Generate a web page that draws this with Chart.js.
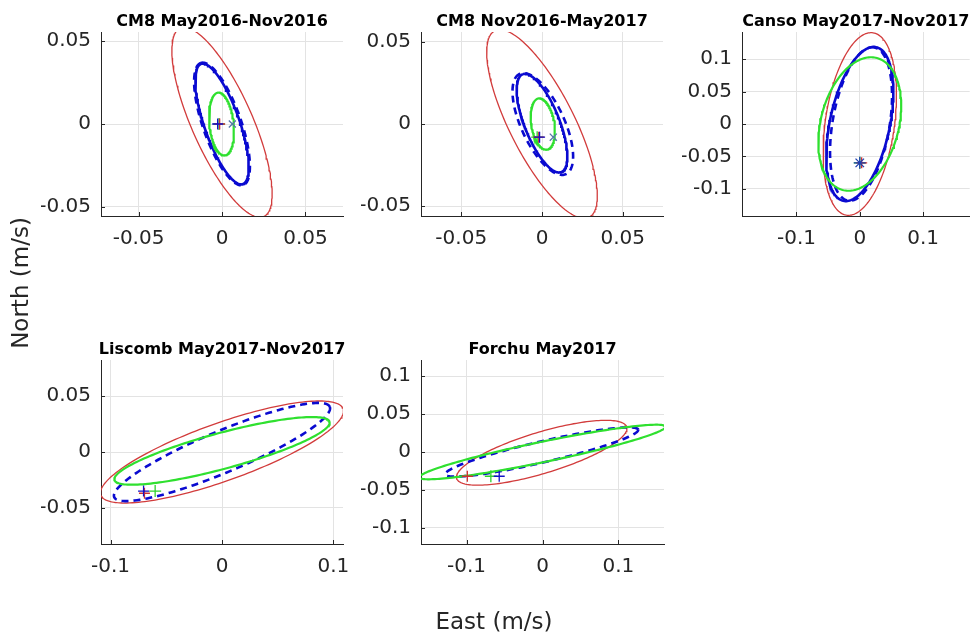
<!DOCTYPE html>
<html>
<head>
<meta charset="utf-8">
<script src="https://cdn.jsdelivr.net/npm/chart.js@4.4.1/dist/chart.umd.min.js"></script>
<style>
html, body { margin: 0; padding: 0; background: #fff; overflow: hidden; }
#wrap { position: relative; width: 977px; height: 639px; }
#wrap canvas { position: absolute; left: 0; top: 0; }
</style>
</head>
<body>
<div id="wrap"></div>
<script>
// Panel titles and axis limits
const TITLES = ['CM8 May2016-Nov2016', 'CM8 Nov2016-May2017', 'Canso May2017-Nov2017', 'Liscomb May2017-Nov2017', 'Forchu May2017'];
const X_RANGES = [[-0.0725, 0.0725], [-0.0749, 0.0749], [-0.186, 0.1736], [-0.1086, 0.1086], [-0.160, 0.160]];
const Y_RANGES = [[-0.0556, 0.0556], [-0.056, 0.056], [-0.142, 0.142], [-0.0825, 0.0825], [-0.1215, 0.1215]];
const X_TICKS = [[-0.05, 0, 0.05], [-0.05, 0, 0.05], [-0.1, 0, 0.1], [-0.1, 0, 0.1], [-0.1, 0, 0.1]];
const Y_TICKS = [[-0.05, 0, 0.05], [-0.05, 0, 0.05], [-0.1, -0.05, 0, 0.05, 0.1], [-0.05, 0, 0.05], [-0.1, -0.05, 0, 0.05, 0.1]];

// Ellipses: [centre east, centre north, semi-major, semi-minor, inclination deg]
const RED_ELLIPSES = [
    [0, 0.001, 0.0622, 0.0182, 113.7],
    [0, 0, 0.0638, 0.020, 117.3],
    [0, 0, 0.1423, 0.0546, 81.5],
    [0, 0, 0.1154, 0.0259, 19.6],
    [-0.001, -0.001, 0.117, 0.0272, 16.9]
];
const BLUE_ELLIPSES = [
    [0, 0, 0.0384, 0.0106, 109],
    [0, 0.0005, 0.0321, 0.0108, 112.1],
    [0, 0, 0.1214, 0.0473, 77.6],
    null,
    null
];
const BLUE_DASH_ELLIPSES = [
    [0, 0, 0.039, 0.0115, 109],
    [0.0005, 0, 0.0337, 0.0133, 115.3],
    [0.002, 0, 0.120, 0.045, 80],
    [0, 0, 0.1049, 0.0186, 22.75],
    [-0.001, 0, 0.1304, 0.0139, 13.1]
];
const GREEN_ELLIPSES = [
    [-0.0003, 0, 0.0191, 0.00725, 96],
    [0.0005, 0, 0.0158, 0.00714, 99.7],
    [0, 0, 0.1054, 0.0616, 75],
    [0, 0.001, 0.100, 0.0161, 15.1],
    [0, 0, 0.1654, 0.01345, 11.7]
];

// Centre markers
const BLUE_PLUS = [[-0.0026, 0], [-0.0015, -0.008], null, [-0.0704, -0.035], [-0.057, -0.032]];
const RED_PLUS = [[-0.0014, 0], [-0.002, -0.008], [0.003, -0.06], [-0.0696, -0.037], [-0.099, -0.032]];
const GREEN_PLUS = [[-0.0018, 0], [-0.003, -0.008], [0, -0.06], [-0.060, -0.035], [-0.068, -0.032]];
const CROSS_MARKS = [[0.0062, 0], [0.007, -0.008], null, null, null];
const STAR_MARKS = [null, null, [0, -0.06], null, null];

// Axes boxes in page pixels [left, top, right, bottom]
const AXES_BOX = [[101, 32, 343, 216], [421, 32, 663, 216], [742, 32, 977, 216], [101, 360, 343, 544], [421, 360, 664, 544]];

const W = 977, H = 639;
const FONT = "'DejaVu Sans', sans-serif";
const AX_COLOR = '#262626';
const GRID_COLOR = '#e3e3e3';

function ellipsePoints(e) {
    const [cx, cy, a, b, inc] = e;
    const th = inc * Math.PI / 180;
    const pts = [];
    for (let k = 0; k <= 180; k++) {
        const t = k / 180 * 2 * Math.PI;
        pts.push({
            x: cx + a * Math.cos(t) * Math.cos(th) - b * Math.sin(t) * Math.sin(th),
            y: cy + a * Math.cos(t) * Math.sin(th) + b * Math.sin(t) * Math.cos(th)
        });
    }
    return pts;
}

function curve(e, color, width, dash) {
    return {
        data: ellipsePoints(e),
        showLine: true,
        borderColor: color,
        borderWidth: width,
        borderDash: dash || [],
        pointRadius: 0,
        fill: false,
        tension: 0
    };
}

function marker(p, style, color, r) {
    return {
        data: [{ x: p[0], y: p[1] }],
        pointStyle: style,
        pointRadius: r,
        borderColor: color,
        backgroundColor: color,
        borderWidth: 1.3,
        showLine: false
    };
}

const panelTitle = {
    id: 'panelTitle',
    afterDraw(chart, args, opts) {
        const { ctx, chartArea } = chart;
        ctx.save();
        ctx.fillStyle = '#000';
        ctx.font = `bold 16px ${FONT}`;
        ctx.textAlign = 'center';
        ctx.textBaseline = 'middle';
        ctx.fillText(opts.text, (chartArea.left + chartArea.right) / 2, chartArea.top - 10);
        ctx.restore();
    }
};

// small inward tick marks on the left and bottom axes
const innerTicks = {
    id: 'innerTicks',
    afterDatasetsDraw(chart) {
        const { ctx, chartArea, scales } = chart;
        ctx.save();
        ctx.strokeStyle = AX_COLOR;
        ctx.lineWidth = 1;
        ctx.beginPath();
        scales.x.ticks.forEach(t => {
            const px = Math.round(scales.x.getPixelForValue(t.value)) + 0.5;
            ctx.moveTo(px, chartArea.bottom);
            ctx.lineTo(px, chartArea.bottom - 4);
        });
        scales.y.ticks.forEach(t => {
            const py = Math.round(scales.y.getPixelForValue(t.value)) + 0.5;
            ctx.moveTo(chartArea.left, py);
            ctx.lineTo(chartArea.left + 4, py);
        });
        ctx.stroke();
        ctx.restore();
    }
};

const figureLabels = {
    id: 'figureLabels',
    afterDraw(chart) {
        const ctx = chart.ctx;
        ctx.save();
        ctx.fillStyle = AX_COLOR;
        ctx.font = `23px ${FONT}`;
        ctx.textAlign = 'center';
        ctx.textBaseline = 'middle';
        ctx.fillText('East (m/s)', 494, 623);
        ctx.translate(22, 283);
        ctx.rotate(-Math.PI / 2);
        ctx.fillText('North (m/s)', 0, 0);
        ctx.restore();
    }
};

const wrap = document.getElementById('wrap');

TITLES.forEach((title, i) => {
    const canvas = document.createElement('canvas');
    canvas.width = W;
    canvas.height = H;
    wrap.appendChild(canvas);

    // first dataset is drawn on top
    const datasets = [];
    if (STAR_MARKS[i]) datasets.push(marker(STAR_MARKS[i], 'star', '#1f3fb0', 6));
    if (CROSS_MARKS[i]) datasets.push(marker(CROSS_MARKS[i], 'crossRot', '#5577a8', 5));
    if (BLUE_PLUS[i]) datasets.push(marker(BLUE_PLUS[i], 'cross', '#1010c8', 5.5));
    if (RED_PLUS[i]) datasets.push(marker(RED_PLUS[i], 'cross', '#d03030', 5.5));
    if (GREEN_PLUS[i]) datasets.push(marker(GREEN_PLUS[i], 'cross', '#2fd12f', 6));
    datasets.push(curve(GREEN_ELLIPSES[i], '#2fe02f', 2.2));
    if (BLUE_ELLIPSES[i]) datasets.push(curve(BLUE_ELLIPSES[i], '#0a0ad0', 2.6));
    datasets.push(curve(BLUE_DASH_ELLIPSES[i], '#0a0ad0', 2.6, [7, 5]));
    datasets.push(curve(RED_ELLIPSES[i], '#d23c3c', 1.3));

    const box = AXES_BOX[i];
    const tickFont = { family: FONT, size: 20 };

    new Chart(canvas, {
        type: 'scatter',
        data: { datasets: datasets },
        options: {
            responsive: false,
            animation: false,
            events: [],
            layout: {
                padding: { left: box[0] - 60, top: box[1], right: W - box[2], bottom: H - box[3] - 40 }
            },
            plugins: {
                legend: { display: false },
                tooltip: { enabled: false },
                panelTitle: { text: title }
            },
            scales: {
                x: {
                    type: 'linear',
                    min: X_RANGES[i][0],
                    max: X_RANGES[i][1],
                    afterBuildTicks: s => { s.ticks = X_TICKS[i].map(v => ({ value: v })); },
                    afterFit: s => { s.height = 40; },
                    grid: { color: GRID_COLOR, drawTicks: false },
                    border: { color: AX_COLOR, width: 1 },
                    ticks: { padding: 11, font: tickFont, color: AX_COLOR, maxRotation: 0, callback: v => String(v) }
                },
                y: {
                    type: 'linear',
                    min: Y_RANGES[i][0],
                    max: Y_RANGES[i][1],
                    afterBuildTicks: s => { s.ticks = Y_TICKS[i].map(v => ({ value: v })); },
                    afterFit: s => { s.width = 60; },
                    grid: { color: GRID_COLOR, drawTicks: false },
                    border: { color: AX_COLOR, width: 1 },
                    ticks: { padding: 10, font: tickFont, color: AX_COLOR, callback: v => String(v) }
                }
            }
        },
        plugins: i === 0 ? [panelTitle, innerTicks, figureLabels] : [panelTitle, innerTicks]
    });
});
</script>
</body>
</html>
